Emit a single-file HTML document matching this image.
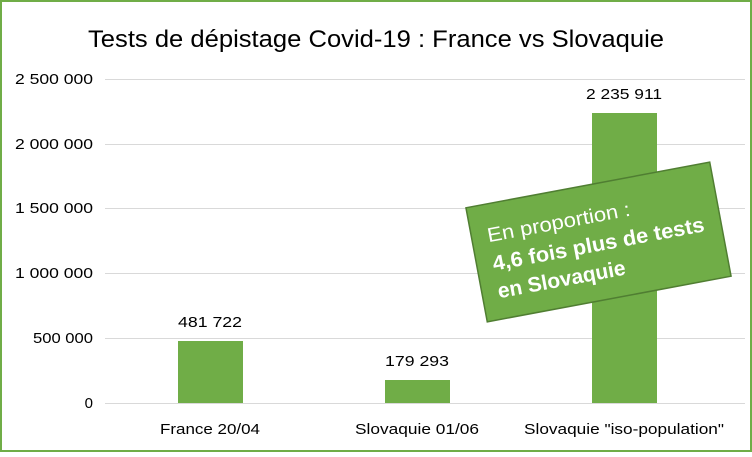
<!DOCTYPE html>
<html><head><meta charset="utf-8"><style>
body{margin:0;width:752px;height:452px;background:#fff;overflow:hidden;font-family:"Liberation Sans",sans-serif}
</style></head><body>
<svg width="752" height="452" xmlns="http://www.w3.org/2000/svg" font-family="Liberation Sans, sans-serif">
<rect x="1" y="1" width="750" height="450" fill="#fff" stroke="#70AD47" stroke-width="2"/>
<text x="376" y="47" text-anchor="middle" font-size="24" fill="#000" textLength="576" lengthAdjust="spacingAndGlyphs">Tests de dépistage Covid-19 : France vs Slovaquie</text>
<g stroke="#d9d9d9" stroke-width="1">
<line x1="105" y1="79.5" x2="745" y2="79.5"/>
<line x1="105" y1="144.5" x2="745" y2="144.5"/>
<line x1="105" y1="208.5" x2="745" y2="208.5"/>
<line x1="105" y1="273.5" x2="745" y2="273.5"/>
<line x1="105" y1="338.5" x2="745" y2="338.5"/>
<line x1="105" y1="403.5" x2="745" y2="403.5"/>
</g>
<g font-size="15" fill="#000" text-anchor="end">
<text x="93" y="84" textLength="78" lengthAdjust="spacingAndGlyphs">2 500 000</text>
<text x="93" y="149" textLength="78" lengthAdjust="spacingAndGlyphs">2 000 000</text>
<text x="93" y="213" textLength="78" lengthAdjust="spacingAndGlyphs">1 500 000</text>
<text x="93" y="278" textLength="78" lengthAdjust="spacingAndGlyphs">1 000 000</text>
<text x="93" y="343" textLength="60" lengthAdjust="spacingAndGlyphs">500 000</text>
<text x="93" y="408">0</text>
</g>
<g fill="#70AD47">
<rect x="178" y="341" width="65" height="62"/>
<rect x="385" y="380" width="65" height="23"/>
<rect x="592" y="113" width="65" height="290"/>
</g>
<g font-size="15" fill="#000" text-anchor="middle">
<text x="210" y="327" textLength="64" lengthAdjust="spacingAndGlyphs">481 722</text>
<text x="417" y="366" textLength="64" lengthAdjust="spacingAndGlyphs">179 293</text>
<text x="624" y="99" textLength="76" lengthAdjust="spacingAndGlyphs">2 235 911</text>
<text x="210" y="434" textLength="100" lengthAdjust="spacingAndGlyphs">France 20/04</text>
<text x="417" y="434" textLength="124" lengthAdjust="spacingAndGlyphs">Slovaquie 01/06</text>
<text x="624" y="434" textLength="200" lengthAdjust="spacingAndGlyphs">Slovaquie "iso-population"</text>
</g>
<g transform="translate(598.5,242) rotate(-10.6)">
<rect x="-124" y="-58" width="248" height="116" fill="#70AD47" stroke="#507E32" stroke-width="1.5"/>
<text x="-108" y="-20" font-size="20" fill="#fff" textLength="145" lengthAdjust="spacingAndGlyphs">En proportion :</text>
<text x="-108" y="9" font-size="21" font-weight="bold" fill="#fff" textLength="215" lengthAdjust="spacingAndGlyphs">4,6 fois plus de tests</text>
<text x="-108" y="37" font-size="21" font-weight="bold" fill="#fff">en Slovaquie</text>
</g>
</svg>
</body></html>
